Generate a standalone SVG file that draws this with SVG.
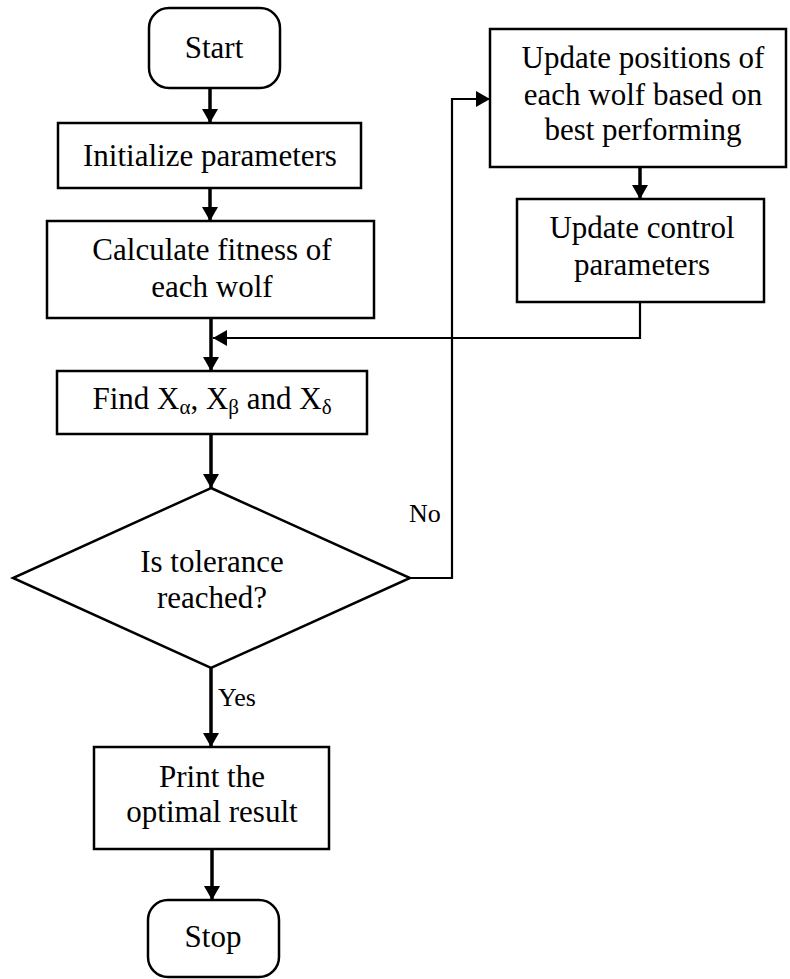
<svg xmlns="http://www.w3.org/2000/svg" width="790" height="979" viewBox="0 0 790 979">
  <style>
    .box { fill: #ffffff; stroke: #000000; stroke-width: 2.5; }
    text { font-family: 'Liberation Serif', Tinos, 'DejaVu Serif', serif; fill: #000000; }
    .lbl { font-size: 31px; text-anchor: middle; }
    .tag { font-size: 26px; }
    .flow { fill: none; stroke: #000000; stroke-width: 3.5; }
    .loop { fill: none; stroke: #000000; stroke-width: 2.2; }
    .sub { font-size: 21px; }
  </style>
  <defs>
    <marker id="arrow" markerUnits="userSpaceOnUse" markerWidth="14" markerHeight="16" refX="14" refY="8" orient="auto">
      <path d="M0,0 L14,8 L0,16 Z" fill="#000000"/>
    </marker>
  </defs>

  <rect width="790" height="979" fill="#ffffff"/>

  <!-- connectors -->
  <g id="connectors">
    <line class="flow" x1="210" y1="88" x2="210" y2="123" marker-end="url(#arrow)"/>
    <line class="flow" x1="210" y1="188" x2="210" y2="221" marker-end="url(#arrow)"/>
    <line class="flow" x1="211" y1="318" x2="211" y2="371" marker-end="url(#arrow)"/>
    <line class="flow" x1="211" y1="434" x2="211" y2="488" marker-end="url(#arrow)"/>
    <line class="flow" x1="211" y1="668" x2="211" y2="747" marker-end="url(#arrow)"/>
    <line class="flow" x1="212" y1="849" x2="212" y2="900" marker-end="url(#arrow)"/>
    <line class="flow" x1="640" y1="167" x2="640" y2="199" marker-end="url(#arrow)"/>
    <!-- "No" branch back up to the update step -->
    <polyline class="loop" points="410,578 452,578 452,99 490,99" marker-end="url(#arrow)"/>
    <!-- return from control update into main flow -->
    <polyline class="loop" points="640,302 640,338 213,338" marker-end="url(#arrow)"/>
    <text class="tag" x="409" y="522">No</text>
    <text class="tag" x="218" y="706">Yes</text>
  </g>

  <g id="start">
    <rect class="box" x="149" y="8" width="131" height="80" rx="20" ry="20"/>
    <text class="lbl" x="214" y="58">Start</text>
  </g>

  <g id="init">
    <rect class="box" x="58" y="123" width="303" height="65"/>
    <text class="lbl" x="210" y="166">Initialize parameters</text>
  </g>

  <g id="fitness">
    <rect class="box" x="47" y="221" width="327" height="97"/>
    <text class="lbl" x="212" y="260">Calculate fitness of</text>
    <text class="lbl" x="212" y="297">each wolf</text>
  </g>

  <g id="leaders">
    <rect class="box" x="57" y="371" width="310" height="63"/>
    <text class="lbl" x="212" y="409">Find X<tspan class="sub" dy="5">α</tspan><tspan dy="-5">, X</tspan><tspan class="sub" dy="5">β</tspan><tspan dy="-5"> and X</tspan><tspan class="sub" dy="5">δ</tspan></text>
  </g>

  <g id="check">
    <polygon class="box" points="211,488 410,578 211,668 13,578"/>
    <text class="lbl" x="212" y="572">Is tolerance</text>
    <text class="lbl" x="212" y="608">reached?</text>
  </g>

  <g id="update-positions">
    <rect class="box" x="490" y="29" width="296" height="138"/>
    <text class="lbl" x="643" y="68">Update positions of</text>
    <text class="lbl" x="643" y="105">each wolf based on</text>
    <text class="lbl" x="643" y="140">best performing</text>
  </g>

  <g id="update-control">
    <rect class="box" x="517" y="199" width="247" height="103"/>
    <text class="lbl" x="642" y="238">Update control</text>
    <text class="lbl" x="642" y="275">parameters</text>
  </g>

  <g id="print">
    <rect class="box" x="94" y="747" width="235" height="102"/>
    <text class="lbl" x="212" y="787">Print the</text>
    <text class="lbl" x="212" y="822">optimal result</text>
  </g>

  <g id="stop">
    <rect class="box" x="148" y="900" width="131" height="77" rx="20" ry="20"/>
    <text class="lbl" x="213" y="947">Stop</text>
  </g>
</svg>
